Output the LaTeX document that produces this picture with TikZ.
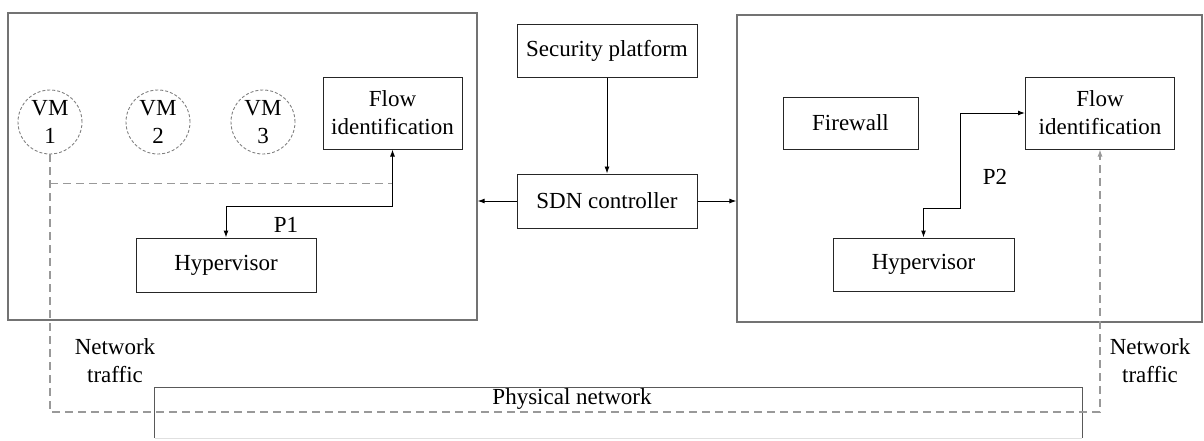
\documentclass[tikz,border=0pt]{standalone}
\usepackage{fontspec}
\setmainfont{Liberation Serif}
\usetikzlibrary{arrows.meta}

\begin{document}
\begin{tikzpicture}[x=1pt,y=-1pt,
  font=\rmfamily\fontsize{23}{28}\selectfont,
  host/.style={draw=black!55,line width=1.3pt,inner sep=0pt},
  box/.style={draw=black!85,line width=1pt,align=center,inner sep=0pt},
  vm/.style={circle,draw=black!50,line width=0.9pt,dash pattern=on 3pt off 2pt,
             minimum size=64pt,inner sep=0pt,align=center},
  lbl/.style={align=center,inner sep=0pt},
  arr/.style={-{Latex[length=7pt,width=5pt]},line width=0.9pt},
  biarr/.style={{Latex[length=7pt,width=5pt]}-{Latex[length=7pt,width=5pt]},line width=1pt},
  traffic/.style={draw=black!40,line width=1.2pt,dash pattern=on 8pt off 5pt}
]
\clip (0,0) rectangle (1204,440);
\node[host,minimum width=469pt,minimum height=307pt] (hostL) at (242.5,166.5) {};
\node[host,minimum width=465pt,minimum height=307pt] (hostR) at (969.5,168.5) {};
\node[vm] (vm1) at (50,122) {VM\\1};
\node[vm] (vm2) at (158,122) {VM\\2};
\node[vm] (vm3) at (263,122) {VM\\3};
\node[box,minimum width=139pt,minimum height=72pt] (flowL) at (392.5,113) {Flow\\identification};
\node[box,minimum width=180pt,minimum height=54pt] (hypL) at (226,265) {Hypervisor};
\node[box,minimum width=180pt,minimum height=53pt] (sec) at (607,50.5) {Security platform};
\node[box,minimum width=180pt,minimum height=54pt] (sdn) at (607,201) {SDN controller};
\node[box,minimum width=135pt,minimum height=52pt] (fw) at (850.5,123) {Firewall};
\node[box,minimum width=149pt,minimum height=72pt] (flowR) at (1100,113) {Flow\\identification};
\node[box,minimum width=181pt,minimum height=53pt] (hypR) at (923.5,264.5) {Hypervisor};
\node[inner sep=0pt,minimum width=927pt,minimum height=50pt] (phys) at (618.5,413) {};
\node[lbl] (physlbl) at (572,399) {Physical network};
\node[lbl] (p1) at (286,225) {P1};
\node[lbl] (p2) at (995,177) {P2};
\node[lbl] (trafL) at (115,361) {Network\\traffic};
\node[lbl] (trafR) at (1150,361) {Network\\traffic};

\draw[black!65,line width=1.3pt] (phys.south west) |- (phys.north east) -- (phys.south east);
\draw[black!12,line width=1pt] (phys.south west) -- (phys.south east);

\coordinate (split) at ([yshift=-29pt]vm1.south);
\coordinate (turn) at (1100,412);
\coordinate (bend) at (960,113);
\draw[traffic] (split) -- (split -| flowL.south);
\draw[traffic,-{Latex[length=7pt,width=5pt]}] (vm1.south) |- (turn) -- (flowR.south);

\draw[arr] (sec) -- (sdn);
\draw[arr] (sdn.west) -- (sdn.west -| hostL.east);
\draw[arr] (sdn.east) -- (sdn.east -| hostR.west);
\draw[biarr] (flowL.south) |- ([yshift=31pt]hypL.north) -- (hypL.north);
\draw[biarr] (hypR.north) -- ++(0,29pt) -| (bend) -- (flowR.west);
\end{tikzpicture}
\end{document}
